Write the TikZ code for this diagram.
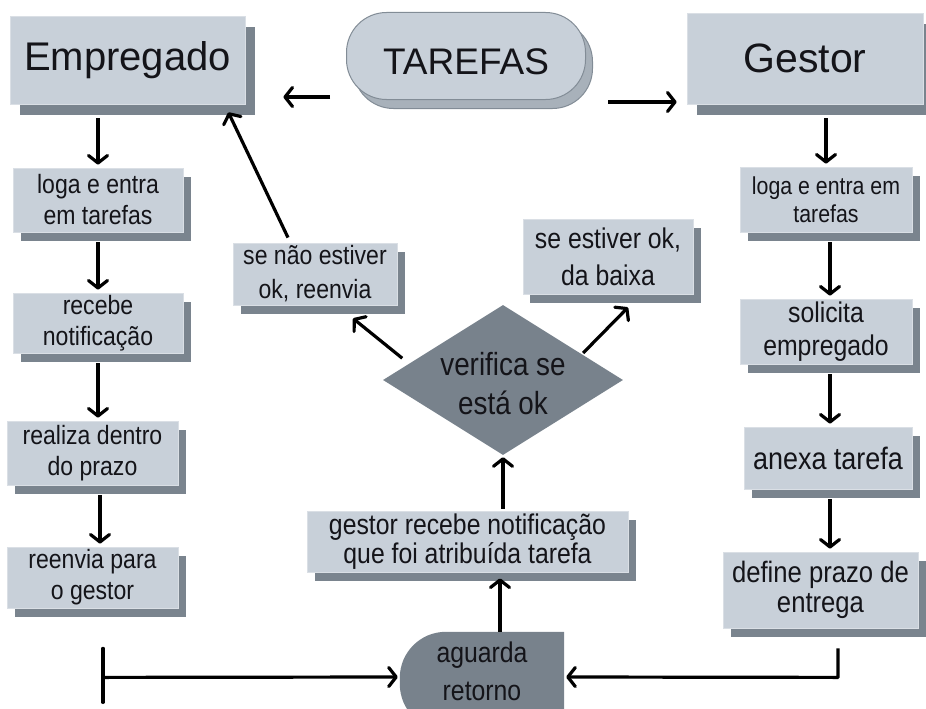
\documentclass[tikz,border=0pt]{standalone}
\usepackage{fontspec}
\setmainfont{Liberation Sans}
\newfontfamily\condf{Liberation Sans}[FakeStretch=0.87]
\usetikzlibrary{arrows.meta,shapes.geometric,shadows,calc}
\definecolor{boxfill}{RGB}{200,208,217}
\definecolor{boxedge}{RGB}{218,223,229}
\definecolor{shadowc}{RGB}{122,132,142}
\definecolor{darkfill}{RGB}{120,130,140}
\definecolor{txt}{RGB}{20,20,25}
\definecolor{taredge}{RGB}{130,140,150}
\definecolor{tarshadow}{RGB}{168,177,186}
\tikzset{
  fs/.style 2 args={font=\fontsize{#1}{#2}\selectfont},
  cs/.style 2 args={font=\condf\fontsize{#1}{#2}\selectfont},
  boxbase/.style={rectangle, fill=boxfill, draw=boxedge, line width=0.8pt, align=center, text=txt, inner sep=0pt},
  sbox/.style={boxbase, general shadow={fill=shadowc, shadow xshift=8pt, shadow yshift=-9pt}},
  bigbox/.style={boxbase, general shadow={fill=shadowc, shadow xshift=10pt, shadow yshift=-11pt}},
  pill/.style={rectangle, rounded corners=40pt, fill=boxfill, draw=taredge, line width=1pt, inner sep=0pt,
    general shadow={fill=tarshadow, draw=taredge, shadow xshift=7pt, shadow yshift=-9pt}},
  darktext/.style={text=txt, align=center, inner sep=0pt},
  arr/.style={line width=3.2pt, -{Straight Barb[round,length=7.5pt,width=19pt]}},
  plainline/.style={line width=3.2pt, line cap=round},
}
\begin{document}
\begin{tikzpicture}[x=1pt,y=-1pt]
\useasboundingbox (0,0) rectangle (926,709);
\clip (0,0) rectangle (926,709);

% header
\node[bigbox, fs={40}{48}, minimum width=235pt, minimum height=88pt] (Emp) at (127.5,60) {Empregado};
\node[pill, minimum width=239pt, minimum height=87pt] (TAR) at (466,56) {};
\node[darktext, fs={37}{44}] (TART) at (466,62) {TAREFAS};
\node[bigbox, fs={41}{49}, minimum width=236pt, minimum height=91pt] (Ges) at (805,58.5) {Gestor};

% left column
\node[sbox, cs={26.5}{31}, minimum width=170pt, minimum height=64pt] (L1) at (98,200) {loga e entra\\em tarefas};
\node[sbox, cs={26.5}{31}, minimum width=170pt, minimum height=60pt] (L2) at (98,323) {recebe\\notificação};
\node[sbox, cs={26.5}{31}, minimum width=171pt, minimum height=64pt] (L3) at (92.5,453) {realiza dentro\\do prazo};
\node[sbox, cs={26.5}{31}, minimum width=171pt, minimum height=61pt] (L4) at (92.5,577.5) {reenvia para\\o gestor};

% right column
\node[sbox, cs={24.5}{28}, minimum width=172pt, minimum height=65pt] (R1) at (826,199.5) {loga e entra em\\tarefas};
\node[sbox, cs={28.5}{33}, minimum width=172pt, minimum height=65pt] (R2) at (826,331.5) {solicita\\empregado};
\node[sbox, cs={31}{34}, minimum width=168pt, minimum height=62pt] (R3) at (828,458) {anexa tarefa};
\node[sbox, cs={29.5}{30}, minimum width=195pt, minimum height=76pt] (R4) at (820.5,590) {define prazo de\\entrega};

% centre
\node[sbox, cs={26.5}{34}, minimum width=164pt, minimum height=62pt] (C1) at (315,274) {se não estiver\\ok, reenvia};
\node[sbox, cs={28.5}{37}, minimum width=170pt, minimum height=75pt, general shadow={fill=shadowc, shadow xshift=7pt, shadow yshift=-9pt}] (C2) at (608,256.5) {se estiver ok,\\da baixa};
\node[diamond, fill=darkfill, minimum width=240pt, minimum height=150pt, inner sep=0pt] (dia) at (503,380) {};
\node[darktext, cs={32}{39}] (diaT) at (503,384) {verifica se\\está ok};
\node[sbox, cs={28.5}{28.5}, minimum width=321pt, minimum height=61pt] (C3) at (467.5,541.5) {gestor recebe notificação\\que foi atribuída tarefa};

% aguarda retorno
\node[minimum width=164pt, minimum height=98pt, inner sep=0pt] (agu) at (482,681) {};
\fill[darkfill] (agu.north east) [rounded corners=46pt] -- (agu.north west) -- (agu.south west) [sharp corners] -- (agu.south east) -- cycle;
\node[darktext, cs={28.5}{38}] (aguT) at (482,671.5) {aguarda\\retorno};

% connectors
\draw[arr] ($(TAR.south west)+(-16,-3)$) -- ($(Emp.east)+(38,37)$);
\draw[arr] ($(TAR.south east)+(22,2)$) -- ($(Ges.west)+(-10,43.5)$);

\draw[arr] ($(L1 |- Emp.south)+(0,14)$) -- ($(L1.north)+(0,-3)$);
\draw[arr] ($(L1.south)+(0,10)$) -- ($(L2.north)+(0,-3)$);
\draw[arr] ($(L2.south)+(0,10)$) -- ($(L2.south |- L3.north)+(0,-3)$);
\draw[arr] ($(L3.south)+(7.5,10)$) -- ($(L4.north)+(7.5,-3)$);

\draw[arr] ($(R1 |- Ges.south)+(0,14)$) -- ($(R1.north)+(0,-3)$);
\draw[arr] ($(R1.south)+(4,10)$) -- ($(R2.north)+(4,-3)$);
\draw[arr] ($(R2.south)+(4,10)$) -- ($(R2.south |- R3.north)+(4,-3)$);
\draw[arr] ($(R3.south)+(2,10)$) -- ($(R3.south |- R4.north)+(2,-3)$);

\draw[arr] ($(C1.north)+(-27,-5)$) -- ($(Emp.south east)+(-17,8)$);
\draw[arr] ($(dia.west)!0.17!(dia.north)+(-1,-9)$) -- ($(C1.south)+(38,13)$);
\draw[arr] ($(dia.east)!0.333!(dia.north)+(0,-2)$) -- ($(C2.south)+(20,13)$);
\draw[arr] ($(dia |- C3.north)+(0,-2)$) -- ($(dia.south)+(0,2)$);
\draw[arr] ([xshift=18pt]agu.north) -- ($(C3.south)+(32.5,6)$);

% bottom feedback lines
\draw[plainline] ($(L4.south)+(10.5,40)$) -- ($(L4.south)+(10.5,94)$);
\draw[arr] ($(L4.south)+(10.5,69)$) -- ($(agu.west)+(-2,-4)$);
\draw[arr, line join=round] ($(R4.south)+(17.5,20)$) -- ($(R4.south)+(17.5,49)$) -- ($(agu.east)+(2,-4)$);
\end{tikzpicture}
\end{document}
